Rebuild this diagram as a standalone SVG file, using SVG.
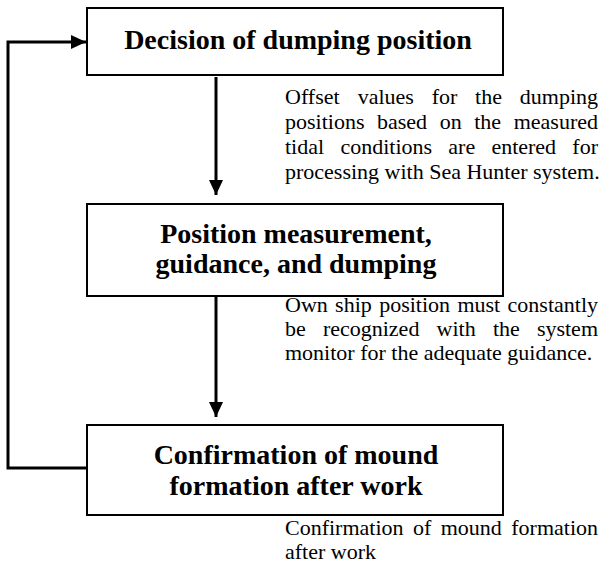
<svg xmlns="http://www.w3.org/2000/svg" width="605" height="575" viewBox="0 0 605 575">
<defs>
<marker id="ah" markerWidth="15" markerHeight="14" refX="15" refY="7" orient="auto" markerUnits="userSpaceOnUse">
<path d="M0,0 L15,7 L0,14 Z" fill="#000"/>
</marker>
<style>
.box{fill:#fff;stroke:#000;stroke-width:2}
.title{font-family:"Liberation Serif","Times New Roman",serif;font-weight:bold;font-size:28px;text-anchor:middle;fill:#000}
.note{font-family:"Liberation Serif","Times New Roman",serif;font-size:22px;fill:#000}
.conn{fill:none;stroke:#000;stroke-width:3}
</style>
</defs>
<g id="connectors">
<line class="conn" x1="216" y1="77" x2="216" y2="195" marker-end="url(#ah)"/>
<line class="conn" x1="216" y1="296" x2="216" y2="417" marker-end="url(#ah)"/>
<polyline class="conn" points="86,468 8,468 8,42 86,42" marker-end="url(#ah)"/>
</g>
<g id="node1">
<rect class="box" x="87" y="8" width="416" height="67"/>
<text class="title" x="298" y="49">Decision of dumping position</text>
</g>
<g id="note1">
<text class="note" y="104"><tspan x="285">Offset</tspan><tspan x="357.7">values</tspan><tspan x="431.7">for</tspan><tspan x="475.1">the</tspan><tspan x="598" text-anchor="end">dumping</tspan></text>
<text class="note" y="129"><tspan x="285">positions</tspan><tspan x="377.0">based</tspan><tspan x="439.7">on</tspan><tspan x="474.2">the</tspan><tspan x="598" text-anchor="end">measured</tspan></text>
<text class="note" y="154"><tspan x="285">tidal</tspan><tspan x="340.4">conditions</tspan><tspan x="448.3">are</tspan><tspan x="491.4">entered</tspan><tspan x="598" text-anchor="end">for</tspan></text>
<text class="note" y="179" x="285">processing with Sea Hunter system.</text>
</g>
<g id="node2">
<rect class="box" x="87" y="204" width="416" height="92"/>
<text class="title" x="296" y="243">Position measurement,</text>
<text class="title" x="296" y="273">guidance, and dumping</text>
</g>
<g id="note2">
<text class="note" y="312"><tspan x="285">Own</tspan><tspan x="335.1">ship</tspan><tspan x="379.2">position</tspan><tspan x="457.4">must</tspan><tspan x="598" text-anchor="end">constantly</tspan></text>
<text class="note" y="336"><tspan x="285">be</tspan><tspan x="322.9">recognized</tspan><tspan x="436.6">with</tspan><tspan x="492.9">the</tspan><tspan x="598" text-anchor="end">system</tspan></text>
<text class="note" y="360" x="285">monitor for the adequate guidance.</text>
</g>
<g id="node3">
<rect class="box" x="87" y="425" width="416" height="90"/>
<text class="title" x="296" y="464">Confirmation of mound</text>
<text class="title" x="296" y="495">formation after work</text>
</g>
<g id="note3">
<text class="note" y="535"><tspan x="285">Confirmation</tspan><tspan x="413.0">of</tspan><tspan x="440.7">mound</tspan><tspan x="598" text-anchor="end">formation</tspan></text>
<text class="note" y="559" x="285">after work</text>
</g>
</svg>
